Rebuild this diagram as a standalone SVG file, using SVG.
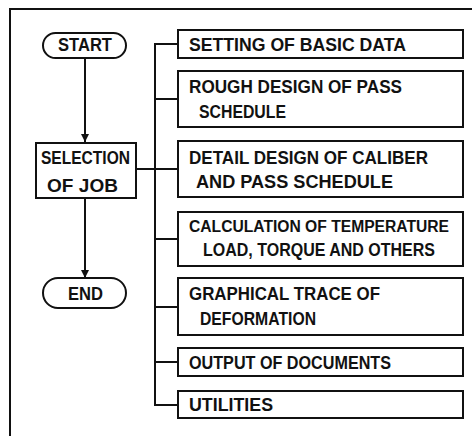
<svg xmlns="http://www.w3.org/2000/svg" width="472" height="436" viewBox="0 0 472 436">
<defs>
<style>
.b{fill:#fff;stroke:#111;stroke-width:2}
.c{fill:none;stroke:#111;stroke-width:2}
.t{font-family:"Liberation Sans",Arial,sans-serif;font-weight:bold;font-size:18px;fill:#111}
</style>
<marker id="ah" viewBox="0 0 8 10" refX="8" refY="5" markerWidth="8" markerHeight="10" markerUnits="userSpaceOnUse" orient="auto">
<path d="M0,1 L8,5 L0,9 Z" fill="#111"/>
</marker>
</defs>
<rect width="472" height="436" fill="#fff"/>
<g id="frame"><path class="c" d="M10,436 V9 H472"/></g>
<g id="connectors">
<path class="c" d="M85,58 V142" marker-end="url(#ah)"/>
<path class="c" d="M85,198 V278" marker-end="url(#ah)"/>
<path class="c" d="M136,169 H178"/>
<path class="c" d="M178,44 H155 V405 H178"/>
<path class="c" d="M155,99 H178"/>
<path class="c" d="M155,239 H178"/>
<path class="c" d="M155,307 H178"/>
<path class="c" d="M155,362 H178"/>
</g>
<g id="start"><rect class="b" x="43" y="33" width="83" height="25" rx="12.5"/><text class="t" x="58" y="51" textLength="54" lengthAdjust="spacingAndGlyphs">START</text></g>
<g id="selection"><rect class="b" x="36" y="143" width="100" height="55"/>
<text class="t" x="41" y="164" textLength="89" lengthAdjust="spacingAndGlyphs" style="font-size:19px">SELECTION</text>
<text class="t" x="47" y="192" textLength="71" lengthAdjust="spacing" style="font-size:19px">OF JOB</text></g>
<g id="end"><rect class="b" x="43" y="278" width="83" height="30" rx="15"/><text class="t" x="68" y="300" textLength="35" lengthAdjust="spacingAndGlyphs">END</text></g>
<g id="n1"><rect class="b" x="178" y="30" width="285" height="28"/>
<text class="t" x="189" y="51" textLength="217" lengthAdjust="spacingAndGlyphs">SETTING OF BASIC DATA</text></g>
<g id="n2"><rect class="b" x="178" y="71" width="285" height="56"/>
<text class="t" x="189" y="93" textLength="213" lengthAdjust="spacingAndGlyphs">ROUGH DESIGN OF PASS</text>
<text class="t" x="199" y="118" textLength="87" lengthAdjust="spacingAndGlyphs">SCHEDULE</text></g>
<g id="n3"><rect class="b" x="178" y="141" width="285" height="56"/>
<text class="t" x="189" y="164" textLength="239" lengthAdjust="spacingAndGlyphs">DETAIL DESIGN OF CALIBER</text>
<text class="t" x="196" y="188" textLength="197" lengthAdjust="spacingAndGlyphs">AND PASS SCHEDULE</text></g>
<g id="n4"><rect class="b" x="178" y="212" width="285" height="54"/>
<text class="t" x="189" y="232" textLength="260" lengthAdjust="spacingAndGlyphs" style="font-size:16px">CALCULATION OF TEMPERATURE</text>
<text class="t" x="203" y="256" textLength="232" lengthAdjust="spacingAndGlyphs" style="font-size:17.5px">LOAD, TORQUE AND OTHERS</text></g>
<g id="n5"><rect class="b" x="178" y="278" width="285" height="57"/>
<text class="t" x="189" y="300" textLength="191" lengthAdjust="spacingAndGlyphs">GRAPHICAL TRACE OF</text>
<text class="t" x="200" y="325" textLength="116" lengthAdjust="spacingAndGlyphs">DEFORMATION</text></g>
<g id="n6"><rect class="b" x="178" y="348" width="285" height="28"/>
<text class="t" x="189" y="369" textLength="202" lengthAdjust="spacingAndGlyphs">OUTPUT OF DOCUMENTS</text></g>
<g id="n7"><rect class="b" x="178" y="391" width="285" height="27"/>
<text class="t" x="189" y="411" textLength="84" lengthAdjust="spacingAndGlyphs">UTILITIES</text></g>
</svg>
